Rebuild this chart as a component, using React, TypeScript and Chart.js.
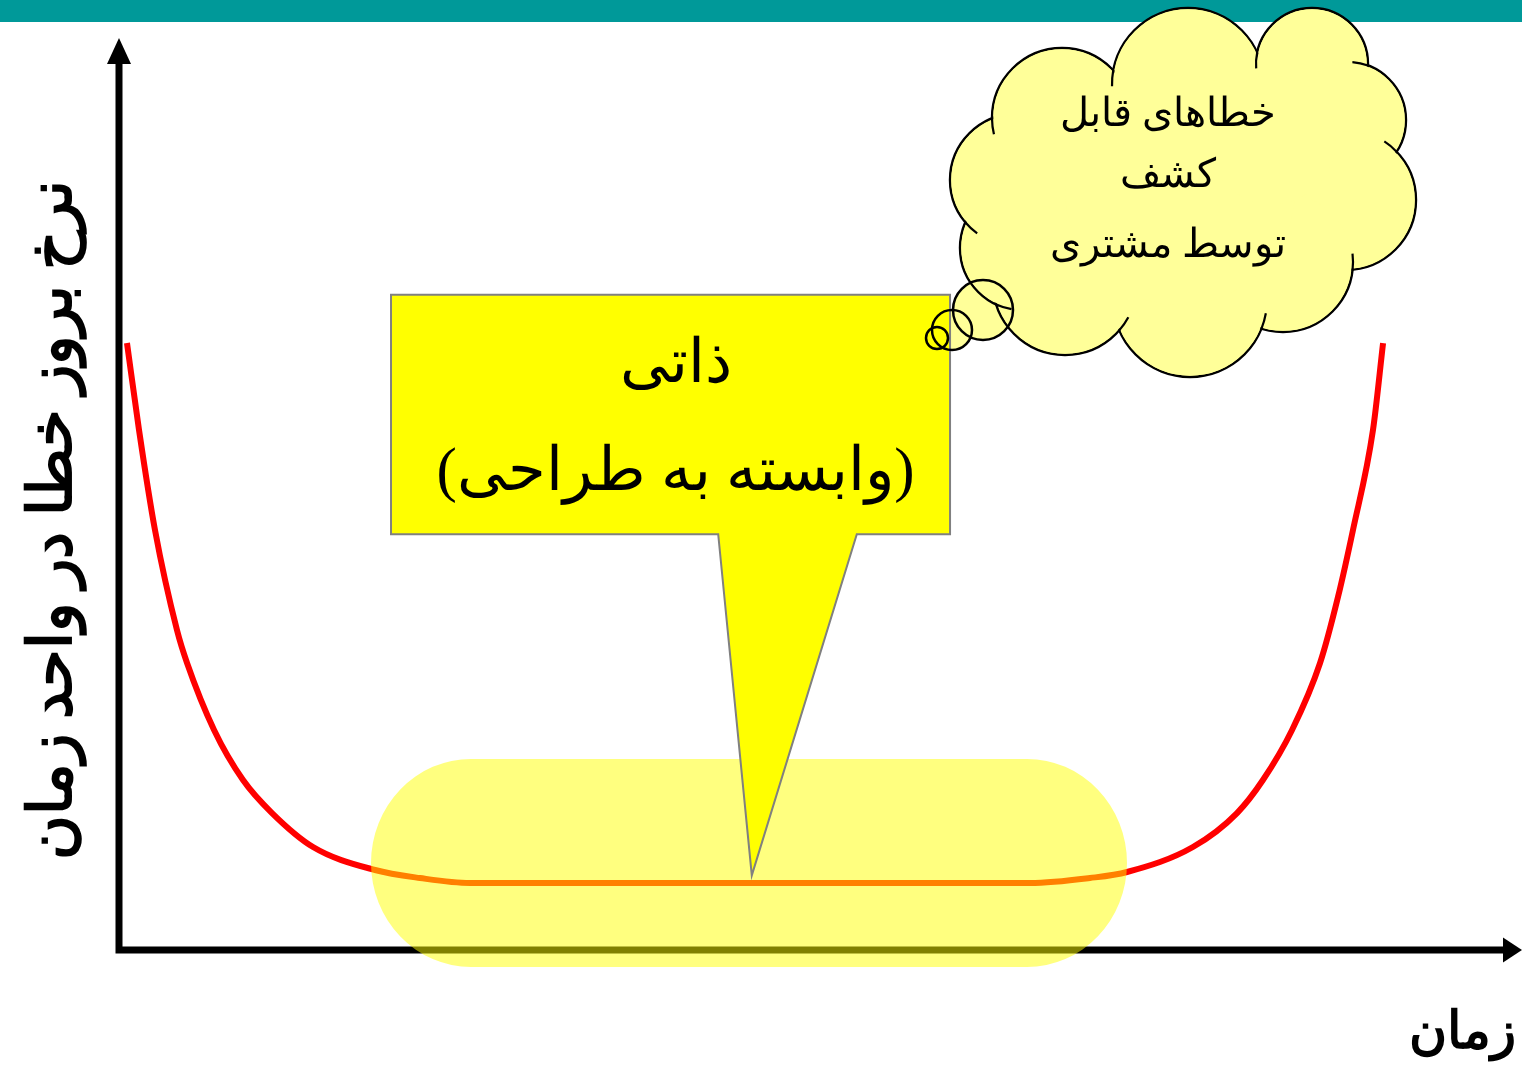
import React, { useEffect, useRef } from "react";
import { Chart, registerables } from "chart.js";

Chart.register(...registerables);

// Bathtub curve: time (0..100) vs error rate (0..100)
const timeValues = [0.57, 1.43, 2.57, 4.14, 4.86, 6.79, 8.86, 10.93, 13.86, 18.29, 21.5, 25.07, 45.43, 65.07, 69.36, 72.0, 76.71, 79.86, 81.71, 83.79, 85.79, 87.07, 88.14, 89.57, 90.29];
const errorRateValues = [66.7, 57.14, 46.15, 35.16, 31.54, 24.18, 18.68, 15.05, 11.32, 8.79, 7.91, 7.36, 7.36, 7.36, 7.91, 8.57, 11.32, 15.05, 18.68, 24.18, 31.54, 38.79, 46.15, 57.14, 66.7];

const yAxisTitle = "نرخ بروز خطا در واحد زمان";
const xAxisTitle = "زمان";
const boxLines = ["ذاتی", "(وابسته به طراحی)"];
const cloudLines = ["خطاهای قابل", "کشف", "توسط مشتری"];

const FONT = "'Times New Roman', 'Liberation Serif', 'DejaVu Serif', serif";

// cloud bumps: [cx, cy, r] in canvas pixels, in order around the outline
const cloudBumps: number[][] = [
  [1062, 118, 70],
  [1188, 84, 76],
  [1312, 64, 56],
  [1348, 120, 58],
  [1346, 200, 70],
  [1283, 262, 70],
  [1190, 300, 77],
  [1065, 283, 72],
  [1022, 248, 62],
  [1016, 180, 66],
];
const cloudFillers: number[][] = [
  [1180, 190, 115],
  [1272, 140, 64],
];
const thoughtBubbles: number[][] = [
  [983, 310, 30],
  [952, 330, 20],
  [937, 338, 11],
];

const overlayPlugin = {
  id: "overlay",
  beforeDraw(chart: any) {
    const ctx = chart.ctx as CanvasRenderingContext2D;
    const { left, top, bottom } = chart.chartArea;
    ctx.save();
    ctx.fillStyle = "#ffffff";
    ctx.fillRect(0, 0, chart.width, chart.height);
    ctx.fillStyle = "#009999";
    ctx.fillRect(0, 0, chart.width, 22);
    ctx.strokeStyle = "#000";
    ctx.fillStyle = "#000";
    ctx.lineWidth = 7;
    ctx.beginPath();
    ctx.moveTo(left, 62);
    ctx.lineTo(left, bottom + 3.5);
    ctx.moveTo(left - 3.5, bottom);
    ctx.lineTo(1504, bottom);
    ctx.stroke();
    ctx.beginPath();
    ctx.moveTo(left, top - 2);
    ctx.lineTo(left - 12, 64);
    ctx.lineTo(left + 12, 64);
    ctx.closePath();
    ctx.fill();
    ctx.beginPath();
    ctx.moveTo(1522, bottom);
    ctx.lineTo(1503, bottom - 12.5);
    ctx.lineTo(1503, bottom + 12.5);
    ctx.closePath();
    ctx.fill();
    ctx.restore();
  },
  afterDatasetsDraw(chart: any) {
    const ctx = chart.ctx as CanvasRenderingContext2D;
    const xs = chart.scales.x;
    const ys = chart.scales.y;
    const px = (v: number) => xs.getPixelForValue(v);
    const py = (v: number) => ys.getPixelForValue(v);
    ctx.save();

    // translucent pill over the flat part
    const pl = px(18.0), pr = px(72.0), pt = py(21.0), pb = py(-1.87);
    const ry = (pb - pt) / 2, rx = 100;
    ctx.beginPath();
    ctx.moveTo(pl + rx, pt);
    ctx.lineTo(pr - rx, pt);
    ctx.ellipse(pr - rx, pt + ry, rx, ry, 0, -Math.PI / 2, Math.PI / 2);
    ctx.lineTo(pl + rx, pb);
    ctx.ellipse(pl + rx, pt + ry, rx, ry, 0, Math.PI / 2, (3 * Math.PI) / 2);
    ctx.closePath();
    ctx.fillStyle = "rgba(255,255,0,0.5)";
    ctx.fill();

    const circ = (c: number[], inset = 0) => {
      ctx.beginPath();
      ctx.arc(c[0], c[1], c[2] - inset, 0, Math.PI * 2);
    };
    // cloud fills
    ctx.fillStyle = "#ffff99";
    cloudBumps.forEach((c) => { circ(c); ctx.fill(); });
    cloudFillers.forEach((c) => { circ(c); ctx.fill(); });
    thoughtBubbles.forEach((c) => { circ(c); ctx.fill(); });

    // callout box with tail
    const bl = px(19.43), br = px(59.36), bt = py(72.0), bb = py(45.7);
    ctx.beginPath();
    ctx.moveTo(bl, bt);
    ctx.lineTo(br, bt);
    ctx.lineTo(br, bb);
    ctx.lineTo(px(52.7), bb);
    ctx.lineTo(px(45.2), py(8.2));
    ctx.lineTo(px(42.8), bb);
    ctx.lineTo(bl, bb);
    ctx.closePath();
    ctx.fillStyle = "#ffff00";
    ctx.fill();
    ctx.strokeStyle = "#808080";
    ctx.lineWidth = 2;
    ctx.stroke();

    // cloud outline (union of bumps)
    ctx.strokeStyle = "#000";
    ctx.lineWidth = 2.4;
    cloudBumps.forEach((c) => { circ(c); ctx.stroke(); });
    ctx.fillStyle = "#ffff99";
    cloudBumps.forEach((c) => { circ(c, 1.3); ctx.fill(); });
    cloudFillers.forEach((c) => { circ(c); ctx.fill(); });

    // creases: continue each bump's arc a little into the previous bump
    ctx.lineWidth = 2.2;
    const ccx = cloudFillers[0][0], ccy = cloudFillers[0][1];
    for (let i = 0; i < cloudBumps.length; i++) {
      const a = cloudBumps[i];
      const b = cloudBumps[(i + 1) % cloudBumps.length];
      const dx = b[0] - a[0], dy = b[1] - a[1];
      const d = Math.hypot(dx, dy);
      if (d >= a[2] + b[2] || d <= Math.abs(a[2] - b[2])) continue;
      const l = (a[2] * a[2] - b[2] * b[2] + d * d) / (2 * d);
      const h = Math.sqrt(Math.max(0, a[2] * a[2] - l * l));
      const mx = a[0] + (dx * l) / d, my = a[1] + (dy * l) / d;
      const p1 = [mx + (h * -dy) / d, my + (h * dx) / d];
      const p2 = [mx - (h * -dy) / d, my - (h * dx) / d];
      const P = Math.hypot(p1[0] - ccx, p1[1] - ccy) > Math.hypot(p2[0] - ccx, p2[1] - ccy) ? p1 : p2;
      const th = Math.atan2(P[1] - b[1], P[0] - b[0]);
      const delta = 16 / b[2];
      const test = [b[0] + b[2] * Math.cos(th + 0.05), b[1] + b[2] * Math.sin(th + 0.05)];
      const inside = Math.hypot(test[0] - a[0], test[1] - a[1]) < a[2];
      ctx.beginPath();
      if (inside) ctx.arc(b[0], b[1], b[2], th, th + delta);
      else ctx.arc(b[0], b[1], b[2], th - delta, th);
      ctx.stroke();
    }

    // thought bubbles
    ctx.lineWidth = 2.5;
    thoughtBubbles.forEach((c) => { circ(c); ctx.stroke(); });

    // texts
    ctx.fillStyle = "#000";
    ctx.textAlign = "center";
    ctx.textBaseline = "alphabetic";
    (ctx as any).direction = "rtl";
    ctx.font = `40px ${FONT}`;
    const cloudY = [126, 187, 257];
    cloudLines.forEach((t, i) => ctx.fillText(t, 1168, cloudY[i]));

    ctx.font = `61px ${FONT}`;
    ctx.fillText(boxLines[0], (bl + br) / 2 + 5, 382);
    ctx.fillText(boxLines[1], (bl + br) / 2 + 5, 490);

    // axis titles
    ctx.font = `bold 52px ${FONT}`;
    ctx.fillText(xAxisTitle, 1462, 1048);
    ctx.save();
    ctx.translate(55, 520);
    ctx.rotate(-Math.PI / 2);
    ctx.textBaseline = "middle";
    ctx.font = `bold 61px ${FONT}`;
    ctx.fillText(yAxisTitle, 0, 0);
    ctx.restore();

    ctx.restore();
  },
};

export default function App() {
  const ref = useRef<HTMLCanvasElement | null>(null);
  useEffect(() => {
    if (!ref.current) return;
    const chart = new Chart(ref.current, {
      type: "line",
      data: {
        datasets: [
          {
            data: timeValues.map((x, i) => ({ x, y: errorRateValues[i] })),
            borderColor: "#ff0000",
            borderWidth: 6,
            pointRadius: 0,
            cubicInterpolationMode: "monotone",
            fill: false,
          },
        ],
      },
      options: {
        responsive: false,
        animation: false,
        layout: { padding: { left: 119, right: 3, top: 40, bottom: 117 } },
        scales: {
          x: { type: "linear", min: 0, max: 100, display: false },
          y: { type: "linear", min: 0, max: 100, display: false },
        },
        plugins: { legend: { display: false }, tooltip: { enabled: false } },
      },
      plugins: [overlayPlugin],
    } as any);
    return () => chart.destroy();
  }, []);
  return (
    <canvas
      ref={ref}
      width={1522}
      height={1067}
      style={{ position: "absolute", left: 0, top: 0, width: 1522, height: 1067, display: "block" }}
    />
  );
}
